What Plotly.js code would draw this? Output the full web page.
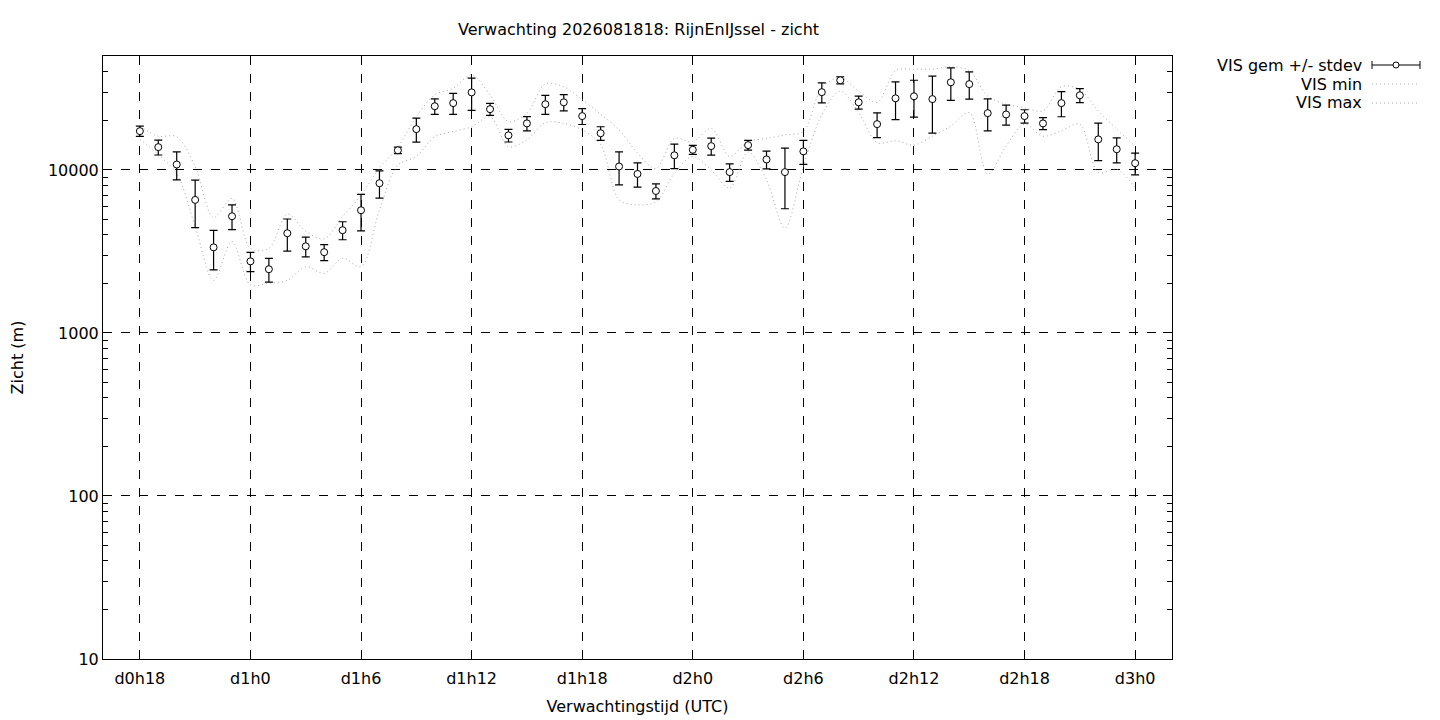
<!DOCTYPE html>
<html>
<head>
<meta charset="utf-8">
<script src="https://cdn.plot.ly/plotly-3.0.1.min.js"></script>
<style>html,body{margin:0;padding:0;background:#fff;}#chart{width:1440px;height:720px;}</style>
</head>
<body>
<div id="chart"></div>
<script>
// forecast hours (hours after d0h0)
const hours = [18,19,20,21,22,23,24,25,26,27,28,29,30,31,32,33,34,35,36,37,38,39,40,41,42,43,44,45,
  46,47,48,49,50,51,52,53,54,55,56,57,58,59,60,61,62,63,64,65,66,67,68,69,70,71,72];
const visMean = [17300,13800,10800,6550,3350,5200,2750,2460,4090,3400,3130,4270,5660,8290,13200,17800,
  24600,25700,29900,23600,16300,19300,25300,26000,21400,16800,10500,9450,7430,12300,13300,14000,9700,
  14200,11600,9700,13000,30000,35500,26000,19100,27500,28300,27200,34500,33600,22300,21900,21400,19300,
  25700,28700,15400,13400,11000];
const visStdev = [1250,1450,2100,2120,910,900,370,410,910,470,350,540,1430,1580,600,3000,
  2700,3800,6700,2000,1460,1950,3400,2950,2400,1600,2400,1600,790,2100,850,1670,1200,
  980,1460,3920,2180,4200,1800,2360,3300,7150,7200,10400,7800,6400,4950,3050,2000,1640,
  4500,2800,4000,2350,1670];
const visMin = [15400,12400,9500,4500,2100,3640,1970,2020,2100,2550,2320,2870,2550,5700,10700,12100,
  16000,17200,18400,21200,13900,15300,19500,19300,17600,14300,6550,6100,6380,9540,12100,10000,7730,
  12900,8680,4390,10500,21800,30500,22500,14700,15100,14200,16100,18600,22500,9410,14000,19100,16100,
  17400,19100,9630,10100,7790];
const visMax = [18600,16100,16000,10500,5100,6700,3300,3300,5370,4200,3780,5170,7000,10300,13800,21200,
  28900,31700,38300,28900,19800,22300,33700,32400,26900,22000,17600,12700,10200,15600,14900,18000,12100,
  14900,15600,16400,17200,32000,36800,30500,25900,40600,41500,41500,43000,40600,28400,25300,24100,23000,
  32400,31200,23000,17800,14000];
const xTickVals = [18,24,30,36,42,48,54,60,66,72];
const xTickText = ["d0h18","d1h0","d1h6","d1h12","d1h18","d2h0","d2h6","d2h12","d2h18","d3h0"];
const yTickVals = [10,100,1000,10000];
const yTickText = ["10","100","1000","10000"];
const legendNames = ["VIS gem +/- stdev","VIS min","VIS max"];
const titleText = "Verwachting 2026081818: RijnEnIJssel - zicht";

const FONT = "DejaVu Sans";
const FS = 16;
const dotted = {color:"#a8a8a8", width:1, dash:"1px,3px", shape:"spline", smoothing:0.9};

const traces = [
  {x:hours, y:visMin, mode:"lines", line:dotted, name:legendNames[1], hoverinfo:"skip"},
  {x:hours, y:visMax, mode:"lines", line:dotted, name:legendNames[2], hoverinfo:"skip"},
  {x:hours, y:visMean, mode:"markers", name:legendNames[0],
   marker:{symbol:"circle", size:7, color:"#ffffff", line:{color:"#000000", width:1}},
   error_y:{type:"data", array:visStdev, visible:true, color:"#000000", thickness:1.2, width:4}}
];

const plotW = 1440-103-268, plotH = 720-56-61;
const px = v => (v-103)/plotW;
const py = v => (659-v)/plotH;
const rows = [65,84,103];
const annotations = legendNames.map((t,i)=>({
  text:t, xref:"paper", yref:"paper", x:px(1364), y:py(rows[i]), xanchor:"right", yanchor:"middle",
  showarrow:false, font:{family:FONT, size:FS, color:"#000"}
}));
const shapes = [
  {type:"line", xref:"paper", yref:"paper", x0:px(1372), x1:px(1420), y0:py(rows[0]), y1:py(rows[0]), line:{color:"#000", width:1}},
  {type:"line", xref:"paper", yref:"paper", x0:px(1372), x1:px(1372), y0:py(rows[0]-4), y1:py(rows[0]+4), line:{color:"#000", width:1}},
  {type:"line", xref:"paper", yref:"paper", x0:px(1420), x1:px(1420), y0:py(rows[0]-4), y1:py(rows[0]+4), line:{color:"#000", width:1}},
  {type:"circle", xref:"paper", yref:"paper", xsizemode:"pixel", ysizemode:"pixel", xanchor:px(1396), yanchor:py(rows[0]),
   x0:-3, x1:3, y0:-3, y1:3, fillcolor:"#fff", line:{color:"#000", width:1}},
  {type:"line", xref:"paper", yref:"paper", x0:px(1372), x1:px(1420), y0:py(rows[1]), y1:py(rows[1]), line:{color:"#a8a8a8", width:1, dash:"1px,3px"}},
  {type:"line", xref:"paper", yref:"paper", x0:px(1372), x1:px(1420), y0:py(rows[2]), y1:py(rows[2]), line:{color:"#a8a8a8", width:1, dash:"1px,3px"}}
];

const layout = {
  width:1440, height:720,
  margin:{l:103, r:268, t:56, b:61, pad:0},
  paper_bgcolor:"#fff", plot_bgcolor:"#fff",
  showlegend:false,
  font:{family:FONT, size:FS, color:"#000"},
  title:{text:titleText, x:px(638.5), xref:"paper", xanchor:"center", y:1-29/720, yref:"container", yanchor:"middle",
         font:{family:FONT, size:FS, color:"#000"}},
  xaxis:{range:[16,74], tickvals:xTickVals, ticktext:xTickText, ticks:"", showline:true, mirror:true,
         linecolor:"#000", linewidth:1, showgrid:true, gridcolor:"#000", griddash:"dash", gridwidth:1,
         zeroline:false, tickfont:{family:FONT, size:FS, color:"#000"}, ticklabelstandoff:5,
         title:{text:"Verwachtingstijd (UTC)", font:{family:FONT, size:FS, color:"#000"}, standoff:13}},
  yaxis:{type:"log", range:[1, Math.log10(50000)], tickvals:yTickVals, ticktext:yTickText,
         ticks:"inside", ticklen:9, tickcolor:"#000", showline:true, mirror:"ticks",
         linecolor:"#000", linewidth:1, showgrid:true, gridcolor:"#000", griddash:"dash", gridwidth:1,
         zeroline:false, tickfont:{family:FONT, size:FS, color:"#000"},
         minor:{ticks:"inside", ticklen:5, tickcolor:"#000", dtick:"D1", showgrid:false},
         title:{text:"Zicht (m)", font:{family:FONT, size:FS, color:"#000"}, standoff:20}},
  annotations:annotations,
  shapes:shapes
};

Plotly.newPlot("chart", traces, layout, {displayModeBar:false, staticPlot:true});
</script>
</body>
</html>
